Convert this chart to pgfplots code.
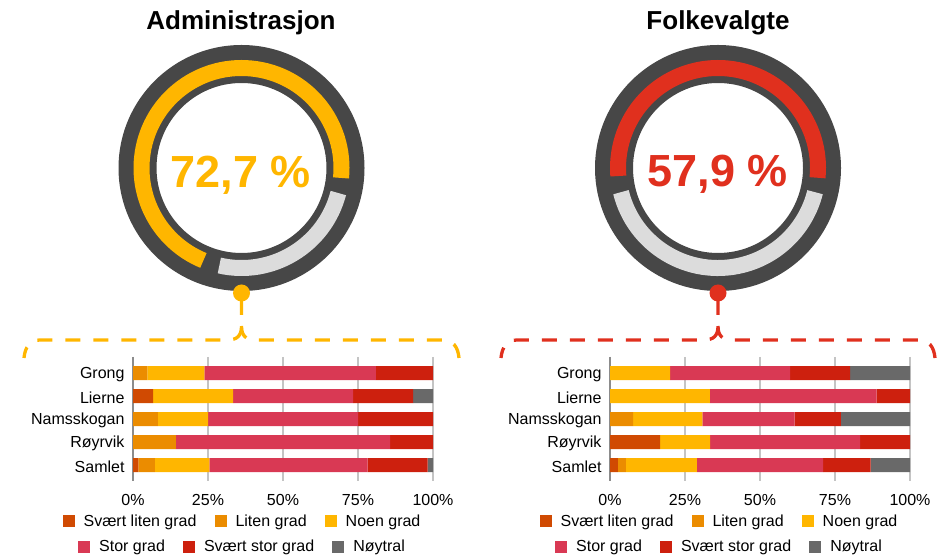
\documentclass[border=0pt]{standalone}
\usepackage{pgfplots}
\pgfplotsset{compat=1.18}
\usepackage{pgfplotstable}
\usepackage{fontspec}
\setmainfont{Liberation Sans}

\definecolor{cSLG}{HTML}{D04A02}
\definecolor{cLG}{HTML}{EB8C00}
\definecolor{cNG}{HTML}{FFB600}
\definecolor{cSG}{HTML}{D93954}
\definecolor{cSSG}{HTML}{CD200E}
\definecolor{cN}{HTML}{696969}
\definecolor{ring}{HTML}{474747}
\definecolor{rest}{HTML}{DCDCDC}
\definecolor{gYel}{HTML}{FFB600}
\definecolor{gRed}{HTML}{E0301E}
\definecolor{gridc}{HTML}{C4C4C4}
\definecolor{zeroc}{HTML}{8C8C8C}

% Administrasjon (n = 55)
\pgfplotstableread{
y SLG LG NG SG SSG N
0 0 4.76 19.05 57.14 19.05 0
1 6.67 0 26.67 40.00 20.00 6.67
2 0 8.33 16.67 50.00 25.00 0
3 0 14.29 0 71.43 14.29 0
4 1.82 5.45 18.18 52.73 20.00 1.82
}\adm
% Folkevalgte (n = 38)
\pgfplotstableread{
y SLG LG NG SG SSG N
0 0 0 20.00 40.00 20.00 20.00
1 0 0 33.33 55.56 11.11 0
2 0 7.69 23.08 30.77 15.38 23.08
3 16.67 0 16.67 50.00 16.67 0
4 2.63 2.63 23.68 42.11 15.79 13.16
}\folk

\newcommand{\fs}{\fontsize{16bp}{19bp}\selectfont}

\pgfplotsset{
  legstyle/.style={
    legend columns=3,
    legend image code/.code={\fill[##1] (0bp,-6bp) rectangle (12bp,6bp);},
    legend style={draw=none, fill=none, font=\fs, anchor=center,
      nodes={inner sep=0bp},
      cells={anchor=west},
      /tikz/every odd column/.append style={column sep=9bp},
      /tikz/every even column/.append style={column sep=18bp}},
  },
  barstyle/.style={
    anchor=south west, scale only axis, width=300bp, height=124.2bp,
    xbar stacked, bar width=14bp,
    xmin=0, xmax=100, ymin=-0.7, ymax=4.7, y dir=reverse,
    axis x line=bottom, axis y line=left,
    axis line style={-},
    x axis line style={draw=none},
    y axis line style={draw=zeroc, line width=1.4bp},
    xmajorgrids, major grid style={draw=gridc, line width=1.2bp},
    major tick length=0pt,
    xtick={0,25,50,75,100}, xticklabels={0\%,25\%,50\%,75\%,100\%},
    ytick={0,1,2,3,4}, yticklabels={Grong,Lierne,Namsskogan,Røyrvik,Samlet},
    tick label style={font=\fs},
    xticklabel style={yshift=-9.5bp},
    yticklabel style={xshift=-5bp, yshift=-1.8bp},
    /pgf/number format/assume math mode=true,
    legstyle,
    legend style={at={(0.3617,-0.322)}},
  },
  rowtwo/.style={
    anchor=south west, scale only axis, width=300bp, height=124.2bp,
    hide axis, xmin=0, xmax=1, ymin=0, ymax=1,
    legstyle,
    legend style={at={(0.3617,-0.530)}},
  },
}

\begin{document}
\begin{tikzpicture}
\useasboundingbox (0bp,0bp) rectangle (950bp,555bp);

% ---------- left bars ----------
\begin{axis}[barstyle, at={(133bp,73.9bp)}]
\addplot[fill=cSLG, draw=none] table[x=SLG, y=y] {\adm};
\addplot[fill=cLG, draw=none] table[x=LG, y=y] {\adm};
\addplot[fill=cNG, draw=none] table[x=NG, y=y] {\adm};
\addplot[fill=cSG, draw=none] table[x=SG, y=y] {\adm};
\addplot[fill=cSSG, draw=none] table[x=SSG, y=y] {\adm};
\addplot[fill=cN, draw=none] table[x=N, y=y] {\adm};
\legend{Svært liten grad, Liten grad, Noen grad}
\end{axis}
\begin{axis}[rowtwo, at={(133bp,73.9bp)}]
\addlegendimage{fill=cSG, draw=none}\addlegendentry{Stor grad}
\addlegendimage{fill=cSSG, draw=none}\addlegendentry{Svært stor grad}
\addlegendimage{fill=cN, draw=none}\addlegendentry{Nøytral}
\end{axis}

% ---------- right bars ----------
\begin{axis}[barstyle, at={(610bp,73.9bp)}]
\addplot[fill=cSLG, draw=none] table[x=SLG, y=y] {\folk};
\addplot[fill=cLG, draw=none] table[x=LG, y=y] {\folk};
\addplot[fill=cNG, draw=none] table[x=NG, y=y] {\folk};
\addplot[fill=cSG, draw=none] table[x=SG, y=y] {\folk};
\addplot[fill=cSSG, draw=none] table[x=SSG, y=y] {\folk};
\addplot[fill=cN, draw=none] table[x=N, y=y] {\folk};
\legend{Svært liten grad, Liten grad, Noen grad}
\end{axis}
\begin{axis}[rowtwo, at={(610bp,73.9bp)}]
\addlegendimage{fill=cSG, draw=none}\addlegendentry{Stor grad}
\addlegendimage{fill=cSSG, draw=none}\addlegendentry{Svært stor grad}
\addlegendimage{fill=cN, draw=none}\addlegendentry{Nøytral}
\end{axis}

% ---------- titles ----------
\node[anchor=base, font=\bfseries\fontsize{26bp}{30bp}\selectfont] at (241bp,525.5bp) {Administrasjon};
\node[anchor=base, font=\bfseries\fontsize{26bp}{30bp}\selectfont] at (718bp,525.5bp) {Folkevalgte};

% ---------- gauges ----------
% left: 72,7 %
\fill[ring, even odd rule] (241.5bp,387bp) circle[radius=123bp] (241.5bp,387bp) circle[radius=85bp];
\draw[gYel, line width=16bp] (241.5bp,387bp) ++(-5.7:100bp) arc[start angle=-5.7, end angle=247.6, radius=100bp];
\draw[rest, line width=16bp] (241.5bp,387bp) ++(-102.8:100bp) arc[start angle=-102.8, end angle=-14.5, radius=100bp];
\node[anchor=base, text=gYel, font=\bfseries\fontsize{45bp}{50bp}\selectfont] at (241bp,367bp) {72,7 \%};

% right: 57,9 %
\fill[ring, even odd rule] (718bp,387bp) circle[radius=123bp] (718bp,387bp) circle[radius=85bp];
\draw[gRed, line width=16bp] (718bp,387bp) ++(-5.6:100bp) arc[start angle=-5.6, end angle=184.6, radius=100bp];
\draw[rest, line width=16bp] (718bp,387bp) ++(194:100bp) arc[start angle=194, end angle=346, radius=100bp];
\node[anchor=base, text=gRed, font=\bfseries\fontsize{45bp}{50bp}\selectfont] at (718bp,368bp) {57,9 \%};

% ---------- connectors ----------
\begin{scope}[line width=3.3bp, dash pattern=on 15bp off 13bp]
\draw[gYel] (241.5bp,255bp) -- (241.5bp,229bp) .. controls (241.5bp,219bp) and (237bp,215bp) .. (227bp,215bp) -- (40bp,215bp) .. controls (30bp,215bp) and (25bp,208bp) .. (24bp,197bp);
\draw[gYel] (459bp,197bp) .. controls (458bp,208bp) and (453bp,215bp) .. (443bp,215bp) -- (256bp,215bp) .. controls (246bp,215bp) and (241.5bp,219bp) .. (241.5bp,229bp);
\draw[gRed] (718bp,255bp) -- (718bp,229bp) .. controls (718bp,219bp) and (713.5bp,215bp) .. (703.5bp,215bp) -- (517bp,215bp) .. controls (507bp,215bp) and (502bp,208bp) .. (501bp,197bp);
\draw[gRed] (935bp,197bp) .. controls (934bp,208bp) and (929bp,215bp) .. (919bp,215bp) -- (732.5bp,215bp) .. controls (722.5bp,215bp) and (718bp,219bp) .. (718bp,229bp);
\end{scope}
\fill[gYel] (241.5bp,262bp) circle[radius=8.5bp];
\fill[gRed] (718bp,262bp) circle[radius=8.5bp];

\end{tikzpicture}
\end{document}
